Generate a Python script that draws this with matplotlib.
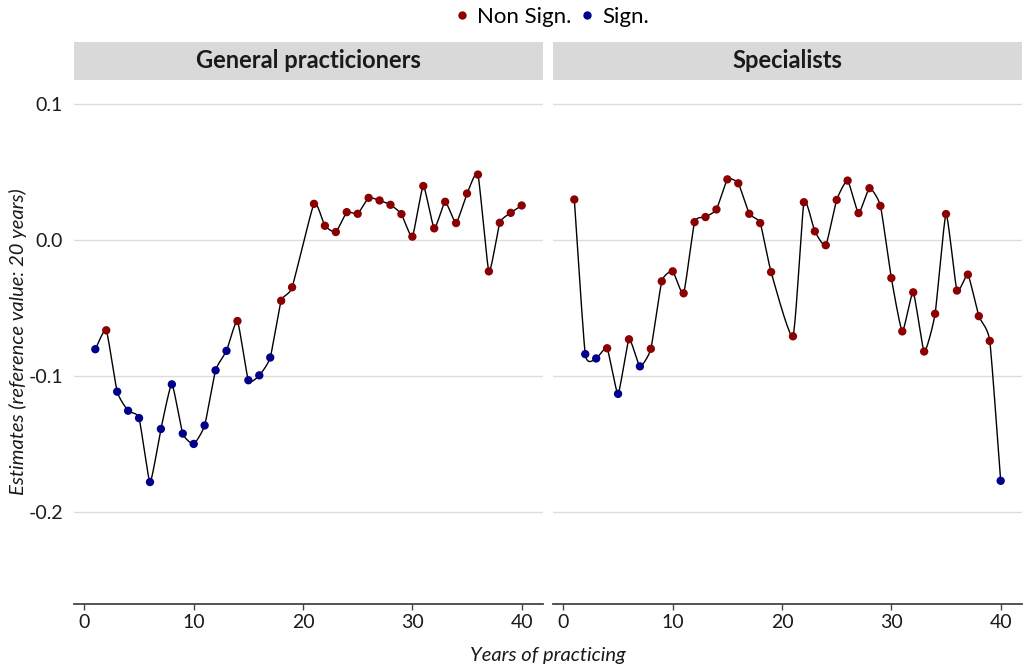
import numpy as np
import matplotlib.pyplot as plt

plt.rcParams['font.family'] = ['Lato', 'DejaVu Sans']

years = [1, 2, 3, 4, 5, 6, 7, 8, 9, 10, 11, 12, 13, 14, 15, 16, 17, 18, 19,
         21, 22, 23, 24, 25, 26, 27, 28, 29, 30, 31, 32, 33, 34, 35, 36, 37, 38, 39, 40]

est_gp = [-0.0803, -0.0664, -0.1115, -0.1255, -0.1309, -0.1779, -0.1389, -0.1061,
          -0.1423, -0.1499, -0.1363, -0.0958, -0.0815, -0.0596, -0.1031, -0.0995,
          -0.0864, -0.0447, -0.0348,
          0.0265, 0.0104, 0.0058, 0.0204, 0.0192, 0.0309, 0.0290, 0.0258, 0.0190,
          0.0024, 0.0396, 0.0085, 0.0280, 0.0124, 0.0341, 0.0480, -0.0231, 0.0126,
          0.0199, 0.0253]
sig_gp = [1, 0, 1, 1, 1, 1, 1, 1, 1, 1, 1, 1, 1, 0, 1, 1, 1, 0, 0,
          0, 0, 0, 0, 0, 0, 0, 0, 0, 0, 0, 0, 0, 0, 0, 0, 0, 0, 0, 0]

est_sp = [0.0297, -0.0839, -0.0871, -0.0796, -0.1131, -0.0730, -0.0929, -0.0800,
          -0.0304, -0.0231, -0.0392, 0.0131, 0.0168, 0.0224, 0.0445, 0.0416,
          0.0192, 0.0124, -0.0236,
          -0.0708, 0.0277, 0.0063, -0.0039, 0.0294, 0.0436, 0.0197, 0.0380, 0.0250,
          -0.0280, -0.0672, -0.0385, -0.0820, -0.0543, 0.0190, -0.0372, -0.0255,
          -0.0560, -0.0742, -0.1770]
sig_sp = [0, 1, 1, 0, 1, 0, 1, 0, 0, 0, 0, 0, 0, 0, 0, 0, 0, 0, 0,
          0, 0, 0, 0, 0, 0, 0, 0, 0, 0, 0, 0, 0, 0, 0, 0, 0, 0, 0, 1]

panels = [("General practicioners", est_gp, sig_gp),
          ("Specialists", est_sp, sig_sp)]

RED = "#8B0000"
BLUE = "#00008B"


def smooth_path(x, y, s=0.5, n=20):
    # mild cardinal spline through the points (like an x-spline)
    P = np.column_stack([x, y]).astype(float)
    m = np.zeros_like(P)
    m[1:-1] = s * (P[2:] - P[:-2]) / 2
    m[0] = s * (P[1] - P[0])
    m[-1] = s * (P[-1] - P[-2])
    t = np.linspace(0, 1, n)[:, None]
    h00 = 2 * t**3 - 3 * t**2 + 1
    h10 = t**3 - 2 * t**2 + t
    h01 = -2 * t**3 + 3 * t**2
    h11 = t**3 - t**2
    out = []
    for i in range(len(P) - 1):
        seg = h00 * P[i] + h10 * m[i] + h01 * P[i + 1] + h11 * m[i + 1]
        out.append(seg if i == 0 else seg[1:])
    out = np.vstack(out)
    return out[:, 0], out[:, 1]


fig = plt.figure(figsize=(10.25, 6.72), dpi=100)
W, H = 1025, 672
lefts = [74, 553]
pw = 469
top, bottom = 80, 604
strip_top = 42

for (title, est, sig), lx in zip(panels, lefts):
    ax = fig.add_axes([lx / W, 1 - bottom / H, pw / W, (bottom - top) / H])
    sx = fig.add_axes([lx / W, 1 - top / H, pw / W, (top - strip_top) / H])
    sx.set_facecolor("#D9D9D9")
    sx.set_xticks([])
    sx.set_yticks([])
    for sp in sx.spines.values():
        sp.set_visible(False)
    sx.text(0.5, 0.5, title, ha="center", va="center", fontsize=17,
            fontweight="bold", color="#1A1A1A", transform=sx.transAxes)

    xs, ys = smooth_path(years, est)
    ax.plot(xs, ys, color="black", lw=1.0, zorder=2)
    cols = [BLUE if s else RED for s in sig]
    ax.scatter(years, est, c=cols, s=36, edgecolors="none", zorder=3)

    ax.set_xlim(-0.95, 41.95)
    ax.set_ylim(-0.2675, 0.1175)
    ax.set_xticks([0, 10, 20, 30, 40])
    ax.set_yticks([0.1, 0.0, -0.1, -0.2])
    ax.set_yticklabels(["0.1", "0.0", "-0.1", "-0.2"])
    ax.grid(axis="y", color="#DDDDDD", lw=1.0)
    ax.set_axisbelow(True)
    for side in ["top", "right", "left"]:
        ax.spines[side].set_visible(False)
    ax.spines["bottom"].set_color("#444444")
    ax.spines["bottom"].set_linewidth(1.3)
    ax.tick_params(axis="x", length=4, width=1, color="#444444",
                   labelsize=14, labelcolor="#1A1A1A", pad=3)
    ax.tick_params(axis="y", length=0, labelsize=14, labelcolor="#1A1A1A", pad=8)
    if lx != lefts[0]:
        ax.set_yticklabels([])

fig.text(18 / W, 1 - 342 / H, "Estimates (reference value: 20 years)", rotation=90,
         ha="center", va="center", fontsize=14.5, style="italic", color="#1A1A1A")
fig.text(548 / W, 1 - 656 / H, "Years of practicing", ha="center", va="center",
         fontsize=14.5, style="italic", color="#1A1A1A")

h1 = plt.Line2D([], [], ls="none", marker="o", ms=5, color=RED)
h2 = plt.Line2D([], [], ls="none", marker="o", ms=5, color=BLUE)
fig.legend([h1, h2], ["Non Sign.", "Sign."], loc="center", ncol=2,
           bbox_to_anchor=(551 / W, 1 - 17 / H), frameon=False, fontsize=16,
           handlelength=0.8, handletextpad=0.3, columnspacing=0.3, borderpad=0)

fig.savefig("out.png", dpi=100)
